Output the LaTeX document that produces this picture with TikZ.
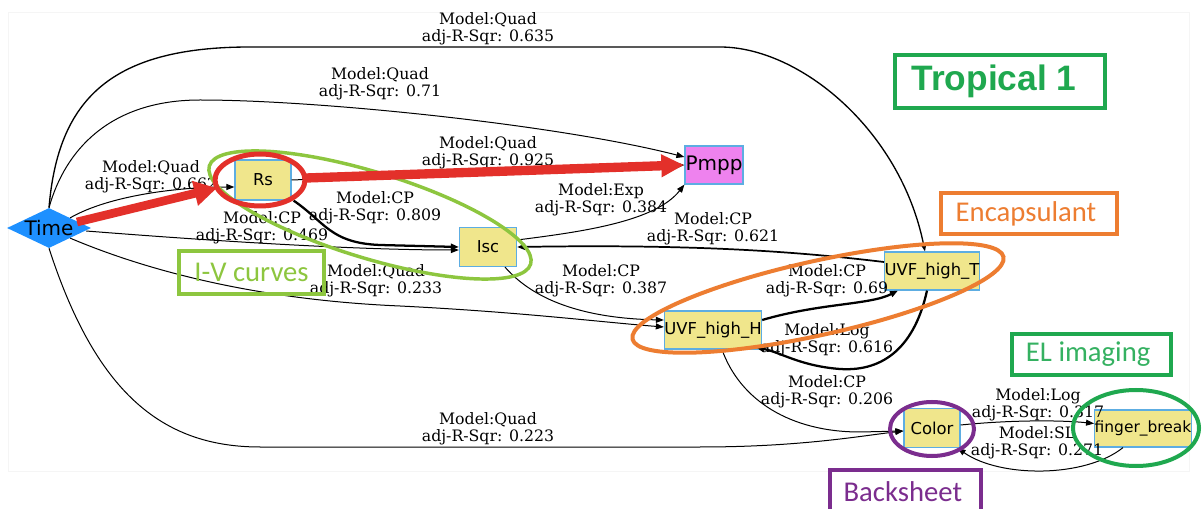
\documentclass[tikz,border=0pt]{standalone}
\usepackage{fontspec}
\setmainfont{DejaVu Serif}
\newfontfamily\nodefont{DejaVu Sans}
\newfontfamily\calfont{Carlito}
\newfontfamily\arialfont{Liberation Sans}
\usetikzlibrary{arrows.meta,shapes.geometric,calc}
\definecolor{khaki}{HTML}{F0E68C}
\definecolor{nodeborder}{HTML}{5DADE2}
\definecolor{pmppfill}{HTML}{EE82EE}
\definecolor{timefill}{HTML}{1E90FF}
\definecolor{annred}{HTML}{E3302A}
\definecolor{annlime}{HTML}{8DC63F}
\definecolor{annorange}{HTML}{ED7D31}
\definecolor{anngreen}{HTML}{1FA84F}
\definecolor{annpurple}{HTML}{7B2D8E}
\begin{document}
\begin{tikzpicture}[x=0.75pt,y=-0.75pt,
  var/.style={draw=nodeborder, line width=0.9pt, fill=khaki, inner sep=0pt,
    font=\nodefont\fontsize{12.3}{14}\selectfont},
  edge/.style={line width=0.75pt, -{Triangle[length=6pt,width=4.5pt]}},
  edgemid/.style={edge, line width=1.3pt},
  edgethick/.style={edge, line width=1.7pt},
  lbl/.style={align=center, inner sep=0pt, font=\fontsize{11.8}{12.4}\selectfont},
  redarrow/.style={draw=annred, line width=6.5pt},
  annbox/.style={draw, line width=3pt, inner sep=0pt, font=\calfont\fontsize{21.5}{24}\selectfont},
]
\path[fill=white, use as bounding box] (0,0) rectangle (1203,509);
\draw[black!4, line width=0.75pt] (8,13) rectangle (1189,471);

% nodes
\node[shape=diamond, aspect=2, fill=timefill, inner sep=0pt, minimum width=63pt, minimum height=30pt,
  font=\nodefont\fontsize{15}{17}\selectfont] (time) at (49,228) {Time};
\node[var, minimum width=42pt, minimum height=30pt] (rs) at (263,180) {Rs};
\node[var, fill=pmppfill, minimum width=43.5pt, minimum height=28.5pt,
  font=\nodefont\fontsize{15}{17}\selectfont] (pmpp) at (714,165) {Pmpp};
\node[var, minimum width=42.75pt, minimum height=29.25pt] (isc) at (488,247) {Isc};
\node[var, minimum width=69pt, minimum height=28.5pt] (uvfT) at (932,271) {UVF\_high\_T};
\node[var, minimum width=69.75pt, minimum height=28.5pt] (uvfH) at (713,330) {UVF\_high\_H};
\node[var, minimum width=42pt, minimum height=29.25pt] (color) at (932,428) {Color};
\node[var, minimum width=69pt, minimum height=27.75pt,
  font=\nodefont\fontsize{11.6}{13}\selectfont] (finger) at (1143,428.5) {finger\_break};

% edges
\draw[edge, line width=1pt] (time.north) .. controls (58,100) and (110,47) .. (250,47)
  -- (720,47) .. controls (800,47) and (900,130) .. ($(uvfT.north)+(-7,0)$);
\draw[edge] (time.north) .. controls (65,150) and (110,100) .. (200,100)
  .. controls (320,100) and (560,125) .. ($(pmpp.west)+(0,-8)$);
\draw[edge] (time.north east) .. controls (110,195) and (180,187) .. ($(rs.west)+(0,7)$);
\draw[edge] (rs.east) -- (pmpp.west);
\draw[edgethick] ($(rs.south east)+(2,0)$) .. controls (325,222) and (330,243) .. (380,245) -- (isc.west);
\draw[edge] ($(time.east)+(-5,3)$) .. controls (200,240) and (350,250) .. ($(isc.west)+(0,3)$);
\draw[edge] ($(isc.east)+(0,-7)$) .. controls (580,232) and (655,222) .. (pmpp.south west);
\draw[edgemid] ($(uvfT.west)+(0,-9)$) .. controls (800,252) and (700,244) .. (isc.east);
\draw[edge] (time.south east) .. controls (150,272) and (260,300) .. (400,306)
  .. controls (520,312) and (600,322) .. ($(uvfH.west)+(0,-3)$);
\draw[edge] ($(isc.south)+(17,0)$) .. controls (525,290) and (565,318) .. ($(uvfH.west)+(0,-10)$);
\draw[edgethick] ($(uvfH.east)+(0,-10)$) .. controls (820,303) and (870,305) .. ($(uvfT.south west)+(14,0)$);
\draw[edgethick] ($(uvfT.south)+(-5,0)$) .. controls (915,345) and (885,372) .. (840,369)
  .. controls (800,366) and (780,352) .. ($(uvfH.south east)+(-6,-2)$);
\draw[edge] ($(uvfH.south)+(9,0)$) .. controls (740,400) and (790,432) .. (860,432) -- ($(color.west)+(0,3)$);
\draw[edge] (time.south) .. controls (95,390) and (160,447) .. (260,447) -- (700,447)
  .. controls (800,447) and (860,436) .. ($(color.west)+(0,3)$);
\draw[edge] ($(color.east)+(0,-3)$) .. controls (1010,420) and (1060,420) .. ($(finger.west)+(0,-5)$);
\draw[edge] ($(finger.south)+(-20,0)$) .. controls (1085,478) and (1000,478) .. ($(color.south east)+(-3,0)$);

% edge labels
\node[lbl] (l1) at (488,29) {Model:Quad\\adj-R-Sqr: 0.635};
\node[lbl] (l2) at (380,84) {Model:Quad\\adj-R-Sqr: 0.71};
\node[lbl] (l3) at (151,177) {Model:Quad\\adj-R-Sqr: 0.662};
\node[lbl] (l4) at (488,153) {Model:Quad\\adj-R-Sqr: 0.925};
\node[lbl] (l5) at (375,208) {Model:CP\\adj-R-Sqr: 0.809};
\node[lbl] (l6) at (262,228) {Model:CP\\adj-R-Sqr: 0.469};
\node[lbl] (l7) at (601,200) {Model:Exp\\adj-R-Sqr: 0.384};
\node[lbl] (l8) at (713,229) {Model:CP\\adj-R-Sqr: 0.621};
\node[lbl] (l9) at (376,281) {Model:Quad\\adj-R-Sqr: 0.233};
\node[lbl] (l10) at (601,281) {Model:CP\\adj-R-Sqr: 0.387};
\node[lbl] (l11) at (827,281) {Model:CP\\adj-R-Sqr: 0.69};
\node[lbl] (l12) at (827,340) {Model:Log\\adj-R-Sqr: 0.616};
\node[lbl] (l13) at (827,392) {Model:CP\\adj-R-Sqr: 0.206};
\node[lbl] (l14) at (488,429) {Model:Quad\\adj-R-Sqr: 0.223};
\node[lbl] (l15) at (1038,405) {Model:Log\\adj-R-Sqr: 0.317};
\node[lbl] (l16) at (1037,443) {Model:SL\\adj-R-Sqr: 0.271};

% annotations
\draw[annlime, line width=2.6pt, rotate around={-17:(370,215)}] (370,215) ellipse (168 and 43);
\draw[annred, line width=3.75pt] (260,180) ellipse (45 and 26);
\coordinate (r1s) at (77,222);
\coordinate (r1e) at (217,188);
\coordinate (r2s) at (306,178);
\coordinate (r2e) at (684,165);
\draw[redarrow, -{Triangle[length=17pt,width=18pt]}] (r1s) -- (r1e);
\draw[redarrow, line width=7pt, -{Triangle[length=17pt,width=16pt]}] (r2s) -- (r2e);
\draw[annorange, line width=3pt, rotate around={12.5:(818,298)}] (818,298) ellipse (190 and 37);
\draw[annpurple, line width=3pt] (932,429) ellipse (42 and 27);
\draw[anngreen, line width=3pt] (1136,428) ellipse (63 and 38);

\node[annbox, draw=anngreen, text=anngreen, minimum width=157.5pt, minimum height=39.75pt,
  font=\arialfont\bfseries\fontsize{26.5}{30}\selectfont] (trop) at (1000,81.5) {\hspace*{-9pt}Tropical 1};
\node[annbox, draw=annorange, text=annorange, minimum width=132pt, minimum height=30.75pt] (encap) at (1029,213.5) {\hspace*{-4.5pt}Encapsulant};
\node[annbox, draw=annlime, text=annlime, minimum width=108.75pt, minimum height=32.25pt] (iv) at (251.5,272.5) {I-V curves};
\node[annbox, draw=anngreen, text=anngreen!90!white, minimum width=119.25pt, minimum height=30.75pt] (el) at (1091.5,354.5) {\hspace*{-5pt}EL imaging};
\node[annbox, draw=annpurple, text=annpurple, minimum width=113.25pt, minimum height=37.5pt] (back) at (905.5,495) {\hspace*{-4pt}\raisebox{4.5pt}{Backsheet}};
\end{tikzpicture}
\end{document}
